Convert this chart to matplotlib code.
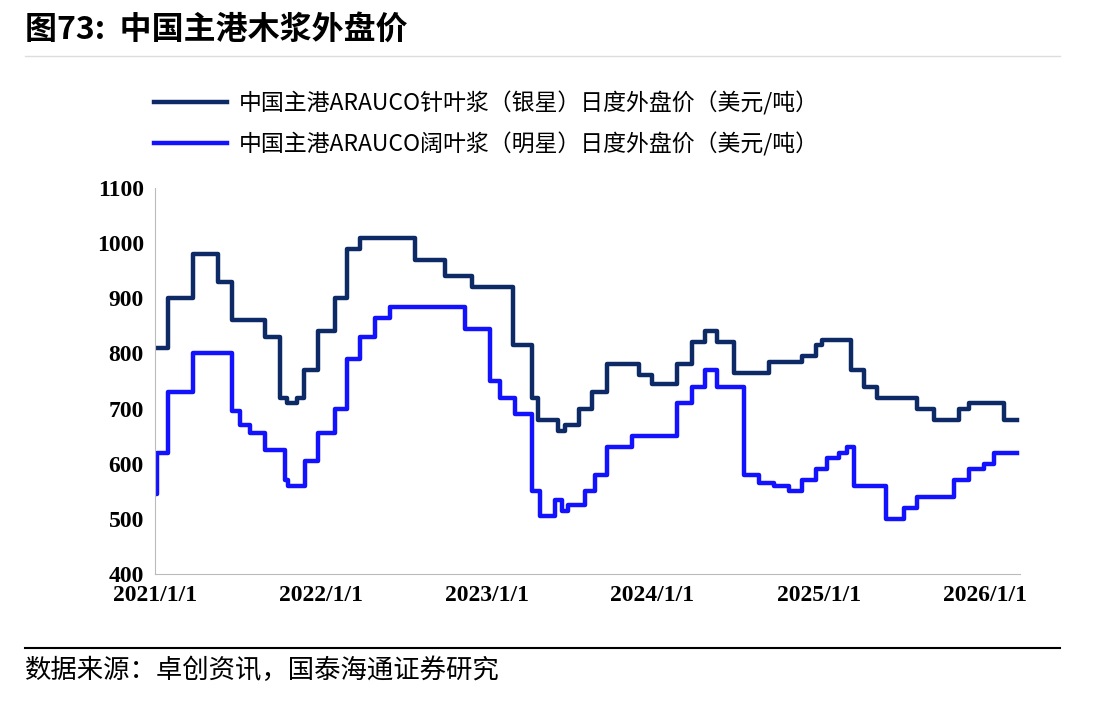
import matplotlib
matplotlib.use("Agg")
import matplotlib.pyplot as plt
import pandas as pd

softwood_dates = ["2021-01-01","2021-01-30","2021-03-26","2021-05-20","2021-06-19","2021-08-31","2021-10-03","2021-10-18","2021-11-09","2021-11-25","2021-12-25","2022-02-01","2022-02-27","2022-03-28","2022-07-27","2022-10-01","2022-11-29","2023-02-27","2023-04-10","2023-04-23","2023-06-06","2023-06-22","2023-07-24","2023-08-22","2023-09-24","2023-12-03","2023-12-30","2024-02-25","2024-03-27","2024-04-26","2024-05-23","2024-06-29","2024-09-14","2024-11-26","2024-12-26","2025-01-08","2025-03-13","2025-04-11","2025-05-10","2025-08-06","2025-09-12","2025-11-06","2025-11-28","2026-02-13","2026-03-14"]
softwood_vals = [810,900,980,930,860,830,720,710,720,770,840,900,990,1010,970,940,920,815,720,680,660,670,700,730,780,760,745,780,820,840,820,765,785,795,815,825,770,740,720,700,680,700,710,680,680]

hardwood_dates = ["2021-01-01","2021-01-05","2021-01-30","2021-03-26","2021-06-19","2021-07-07","2021-07-29","2021-08-31","2021-10-14","2021-10-20","2021-11-27","2021-12-25","2022-02-01","2022-02-27","2022-03-28","2022-04-30","2022-06-02","2022-11-14","2023-01-08","2023-01-30","2023-03-04","2023-04-10","2023-04-28","2023-05-31","2023-06-15","2023-06-28","2023-08-05","2023-08-27","2023-09-24","2023-11-16","2024-02-25","2024-03-27","2024-04-26","2024-05-23","2024-07-21","2024-08-23","2024-09-25","2024-10-28","2024-11-26","2024-12-26","2025-01-20","2025-02-15","2025-03-05","2025-03-20","2025-05-30","2025-07-08","2025-08-06","2025-10-26","2025-11-28","2025-12-31","2026-01-22","2026-03-14"]
hardwood_vals = [545,620,730,800,695,670,655,625,570,560,605,655,700,790,830,865,885,845,750,720,690,550,505,535,515,525,550,580,630,650,710,740,770,740,580,565,560,550,570,590,610,620,630,560,500,520,540,570,590,600,620,620]

labels = ["中国主港ARAUCO针叶浆（银星）日度外盘价（美元/吨）",
          "中国主港ARAUCO阔叶浆（明星）日度外盘价（美元/吨）"]
xticks = ["2021-01-01","2022-01-01","2023-01-01","2024-01-01","2025-01-01","2026-01-01"]
xticklabels = ["2021/1/1","2022/1/1","2023/1/1","2024/1/1","2025/1/1","2026/1/1"]
yticks = [400,500,600,700,800,900,1000,1100]

cjk = ["Noto Sans CJK SC", "DejaVu Sans"]
serif = ["Liberation Serif", "DejaVu Serif"]

fig = plt.figure(figsize=(11.09, 7.03), dpi=100)
ax = fig.add_axes([155/1109, 1-574/703, 865/1109, 386/703])

ax.step(pd.to_datetime(softwood_dates), softwood_vals, where="post", color="#0d2a66", lw=3.2, label=labels[0])
ax.step(pd.to_datetime(hardwood_dates), hardwood_vals, where="post", color="#1212ff", lw=3.2, label=labels[1])

ax.set_ylim(400, 1100)
ax.set_yticks(yticks)
ax.set_yticklabels([str(v) for v in yticks], fontfamily=serif, fontsize=17, fontweight="bold")
ax.set_xlim(pd.Timestamp("2021-01-01"), pd.Timestamp("2026-03-20"))
ax.set_xticks(pd.to_datetime(xticks))
ax.set_xticklabels(xticklabels, fontfamily=serif, fontsize=17, fontweight="bold")
ax.tick_params(axis="both", length=0, pad=8)
for s in ["top", "right"]:
    ax.spines[s].set_visible(False)
for s in ["left", "bottom"]:
    ax.spines[s].set_color("#bbbbbb")

ax.legend(loc="upper left", bbox_to_anchor=(-0.025, 1.305), frameon=False,
          prop={"family": cjk, "size": 16.5}, handlelength=3.2, handletextpad=0.5,
          labelspacing=0.75)

fig.text(25/1109, 1-30/703, "图73:  中国主港木浆外盘价", fontfamily=cjk, fontsize=23,
         fontweight="bold", va="center")
fig.add_artist(plt.Line2D([25/1109, 1060/1109], [1-56/703]*2, color="#dddddd", lw=1))
fig.add_artist(plt.Line2D([25/1109, 1060/1109], [1-648/703]*2, color="black", lw=1.5))
fig.text(25/1109, 1-670/703, "数据来源：卓创资讯，国泰海通证券研究", fontfamily=cjk, fontsize=19, va="center")

fig.savefig("out.png", dpi=100)
